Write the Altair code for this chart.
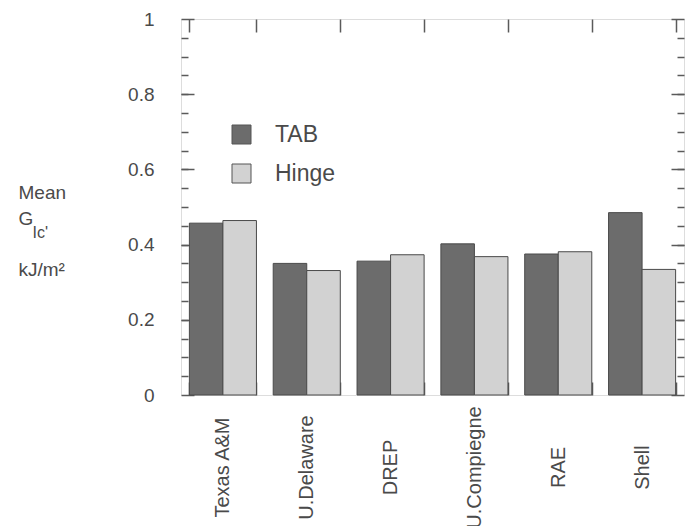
import altair as alt
import pandas as pd

sites = ["Texas A&M", "U.Delaware", "DREP", "U.Compiegne", "RAE", "Shell"]
series_order = ["TAB", "Hinge"]
tab_values = [0.457, 0.350, 0.356, 0.402, 0.375, 0.485]
hinge_values = [0.464, 0.331, 0.373, 0.368, 0.381, 0.334]
y_major_ticks = [0, 0.2, 0.4, 0.6, 0.8, 1.0]
y_minor_ticks = [0.05, 0.1, 0.15, 0.2, 0.25, 0.3, 0.35, 0.4, 0.45, 0.5,
                 0.55, 0.6, 0.65, 0.7, 0.75, 0.8, 0.85, 0.9, 0.95]
colors = ["#6c6c6c", "#d2d2d2"]
title_mean = "Mean"
title_g = "G"
title_sub = "Ic'"
title_unit = "kJ/m\u00b2"

rows = []
for s, t, h in zip(sites, tab_values, hinge_values):
    rows.append({"site": s, "series": "TAB", "value": t})
    rows.append({"site": s, "series": "Hinge", "value": h})
df = pd.DataFrame(rows)

TICK = "#5a5a5a"
TEXT = "#4a4a4a"
FONT = "Liberation Sans"

xscale = alt.Scale(paddingInner=0.2, paddingOuter=0.1)
yscale = alt.Scale(domain=[0, 1], nice=False, zero=True)
xoff = alt.XOffset("series:N", sort=series_order)


def x_enc(axis):
    return alt.X("site:N", sort=sites, scale=xscale, axis=axis)


def y_enc(axis):
    return alt.Y("value:Q", scale=yscale, axis=axis)


def title_props(text, tx, ty, size=19):
    return dict(title=text, titleAngle=0, titleAlign="left", titleBaseline="alphabetic",
                titleX=tx, titleY=ty, titleFontSize=size, titleFontWeight="normal",
                titleColor=TEXT, titleFont=FONT)


base = alt.Chart(df)

bars = base.mark_bar(stroke="#4a4a4a", strokeWidth=1).encode(
    x=x_enc(alt.Axis(orient="bottom", title=None, labelAngle=270, labelAlign="center",
                     labelBaseline="middle", labelFontSize=20, labelColor=TEXT,
                     labelPadding=72, tickSize=13, offset=-13, tickBand="extent",
                     tickColor=TICK, tickWidth=1.5, domain=False, grid=False,
                     labelFont=FONT)),
    xOffset=xoff,
    y=y_enc(alt.Axis(orient="left", values=y_major_ticks, format="~g", tickSize=13,
                     offset=-13, labelPadding=27, labelFontSize=19, labelColor=TEXT,
                     tickColor=TICK, tickWidth=1.5, domain=False, grid=False,
                     labelFont=FONT, **title_props(title_mean, -176, 179))),
    color=alt.Color("series:N", sort=series_order,
                    scale=alt.Scale(domain=series_order, range=colors),
                    legend=alt.Legend(orient="none", legendX=49, legendY=104, title=None,
                                      symbolType="square", symbolSize=361,
                                      symbolStrokeColor="#555555", symbolStrokeWidth=1,
                                      symbolOpacity=1, labelFontSize=23, labelOffset=22,
                                      labelColor=TEXT, rowPadding=15, padding=0,
                                      labelFont=FONT,
                                      labelExpr="datum.label == 'Hinge' ? '\u00a0\u00a0Hinge' : datum.label")),
)

minor_left = base.mark_bar(opacity=0).encode(
    x=x_enc(alt.Axis(orient="top", title=None, labels=False, tickSize=13, offset=-13,
                     tickBand="extent", tickColor=TICK, tickWidth=1.5, domain=False,
                     grid=False)),
    xOffset=xoff,
    y=y_enc(alt.Axis(orient="left", values=y_minor_ticks, labels=False,
                     tickSize=7, offset=-7, tickColor=TICK, tickWidth=1.5,
                     domain=False, grid=False, **title_props(title_g, -170, 205))),
)

major_right = base.mark_bar(opacity=0).encode(
    x=x_enc(None),
    xOffset=xoff,
    y=y_enc(alt.Axis(orient="right", values=y_major_ticks, labels=False,
                     tickSize=13, offset=-13, tickColor=TICK, tickWidth=1.5,
                     domain=False, grid=False, **title_props(title_sub, -639, 218, 16))),
)

minor_right = base.mark_bar(opacity=0).encode(
    x=x_enc(None),
    xOffset=xoff,
    y=y_enc(alt.Axis(orient="right", values=y_minor_ticks, labels=False,
                     tickSize=7, offset=-7, tickColor=TICK, tickWidth=1.5,
                     domain=False, grid=False, **title_props(title_unit, -659, 256))),
)

chart = alt.layer(bars, minor_left, major_right, minor_right).resolve_axis(
    x="independent", y="independent"
).properties(
    width=503,
    height=376,
    padding={"left": 181, "top": 19, "right": 5, "bottom": 131},
    autosize=alt.AutoSizeParams(type="none"),
).configure_view(
    stroke="#666666", strokeWidth=1.5
).configure(
    font=FONT, background="white"
)

chart.save("out.html", embed_options={"renderer": "svg", "actions": False})
